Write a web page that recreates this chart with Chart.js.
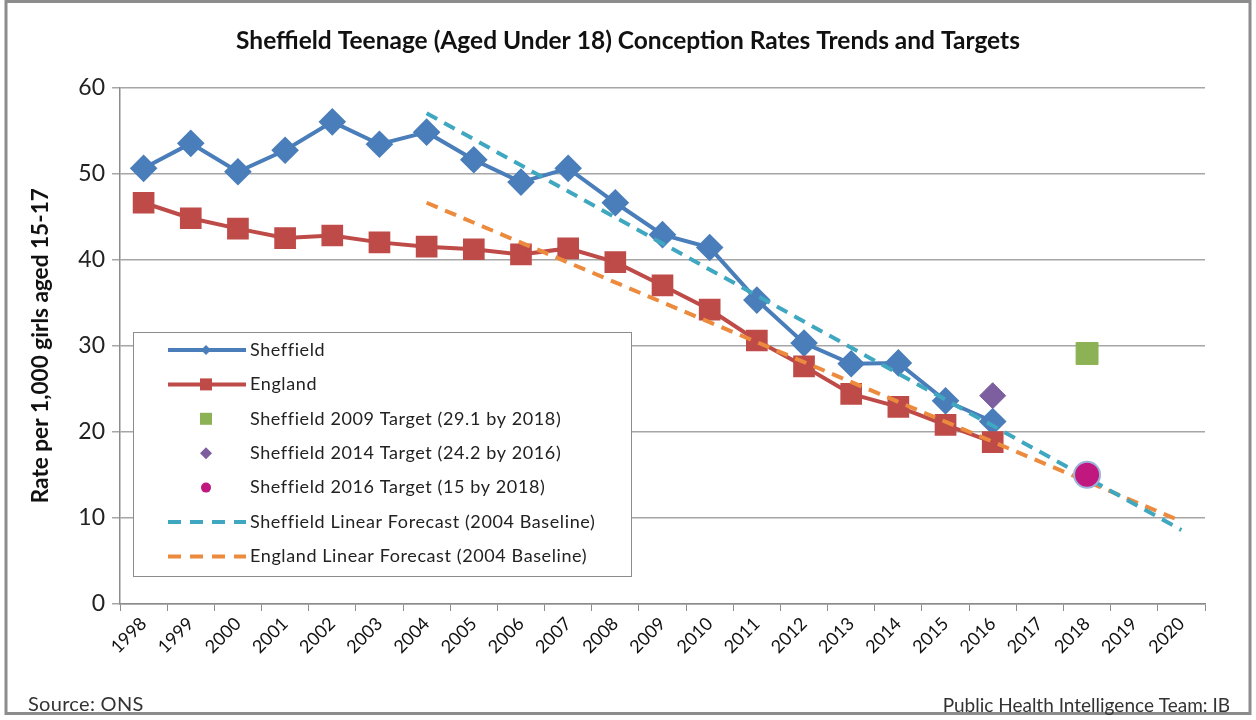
<!DOCTYPE html>
<html>
<head>
<meta charset="utf-8">
<script src="https://cdn.jsdelivr.net/npm/chart.js@4/dist/chart.umd.min.js"></script>
<style>
  html, body { margin: 0; padding: 0; background: #fff; }
  #wrap { width: 1256px; height: 720px; position: relative; }
</style>
</head>
<body>
<div id="wrap"><canvas id="teenChart" width="1256" height="720"></canvas></div>
<script>
const years = ['1998', '1999', '2000', '2001', '2002', '2003', '2004', '2005', '2006', '2007', '2008',
    '2009', '2010', '2011', '2012', '2013', '2014', '2015', '2016', '2017', '2018', '2019', '2020'];

const sheffield = [50.6, 53.5, 50.2, 52.7, 56.0, 53.4, 54.8, 51.6, 49.0, 50.6, 46.6,
    42.9, 41.4, 35.3, 30.3, 27.9, 28.0, 23.6, 21.2];
const england = [46.6, 44.8, 43.6, 42.5, 42.8, 42.0, 41.5, 41.2, 40.6, 41.3, 39.7,
    37.0, 34.2, 30.6, 27.6, 24.4, 22.9, 20.8, 18.8];

// targets: one point each (index = year position)
const target2009 = [null, null, null, null, null, null, null, null, null, null, null,
    null, null, null, null, null, null, null, null, null, 29.1];
const target2014 = [null, null, null, null, null, null, null, null, null, null, null,
    null, null, null, null, null, null, null, 24.2];
const target2016 = [null, null, null, null, null, null, null, null, null, null, null,
    null, null, null, null, null, null, null, null, null, 15];

// linear forecasts from the 2004 baseline to 2020
const sheffieldForecast = [null, null, null, null, null, null, 57.0, null, null, null, null,
    null, null, null, null, null, null, null, null, null, null, null, 8.6];
const englandForecast = [null, null, null, null, null, null, 46.6, null, null, null, null,
    null, null, null, null, null, null, null, null, null, null, null, 9.6];

const yTicks = [0, 10, 20, 30, 40, 50, 60];

const FONT = "Lato, 'Open Sans', sans-serif";

const legendItems = [
    { text: 'Sheffield', line: '#4A7EBB', dash: [], marker: 'diamond', mColor: '#4A7EBB', mSize: 5 },
    { text: 'England', line: '#BE4B48', dash: [], marker: 'square', mColor: '#BE4B48', mSize: 6 },
    { text: 'Sheffield 2009 Target (29.1 by 2018)', line: null, marker: 'square', mColor: '#8DB255', mSize: 6 },
    { text: 'Sheffield 2014 Target (24.2 by 2016)', line: null, marker: 'diamond', mColor: '#7D5FA0', mSize: 6 },
    { text: 'Sheffield 2016 Target (15 by 2018)', line: null, marker: 'circle', mColor: '#C0187F', mSize: 5 },
    { text: 'Sheffield Linear Forecast (2004 Baseline)', line: '#3FA8C0', dash: [13, 9], marker: null },
    { text: 'England Linear Forecast (2004 Baseline)', line: '#EC8B3D', dash: [13, 9], marker: null }
];

function drawMarker(ctx, type, x, y, r, color) {
    ctx.fillStyle = color;
    ctx.beginPath();
    if (type === 'diamond') {
        ctx.moveTo(x, y - r); ctx.lineTo(x + r, y); ctx.lineTo(x, y + r); ctx.lineTo(x - r, y);
        ctx.closePath();
    } else if (type === 'square') {
        ctx.rect(x - r, y - r, 2 * r, 2 * r);
    } else {
        ctx.arc(x, y, r, 0, Math.PI * 2);
    }
    ctx.fill();
}

const decor = {
    id: 'decor',
    afterDraw(chart) {
        const ctx = chart.ctx;
        const area = chart.chartArea;
        ctx.save();
        // outer frame
        ctx.strokeStyle = '#8C8C8C';
        ctx.lineWidth = 3;
        ctx.strokeRect(6, 1.5, 1244, 712);

        // y axis title, sized to span about 315px like the original
        const yTitle = 'Rate per 1,000 girls aged 15-17';
        ctx.save();
        ctx.font = 'bold 18px ' + FONT;
        const size = 18 * 315 / ctx.measureText(yTitle).width;
        ctx.font = 'bold ' + size.toFixed(1) + 'px ' + FONT;
        ctx.translate(41, (area.top + area.bottom) / 2);
        ctx.rotate(-Math.PI / 2);
        ctx.fillStyle = '#111';
        ctx.textAlign = 'center';
        ctx.textBaseline = 'middle';
        ctx.fillText(yTitle, 0, 0);
        ctx.restore();

        // legend box inside the plot
        const bx = 133, by = 332, bw = 498, bh = 244;
        ctx.fillStyle = '#fff';
        ctx.fillRect(bx, by, bw, bh);
        ctx.strokeStyle = '#8C8C8C';
        ctx.lineWidth = 1;
        ctx.strokeRect(bx + 0.5, by + 0.5, bw, bh);

        ctx.font = '18px ' + FONT;
        ctx.letterSpacing = '0.6px';
        ctx.textBaseline = 'middle';
        legendItems.forEach((it, i) => {
            const y = 350 + i * 34.4;
            if (it.line) {
                ctx.strokeStyle = it.line;
                ctx.lineWidth = 4;
                ctx.setLineDash(it.dash);
                ctx.beginPath();
                ctx.moveTo(168, y);
                ctx.lineTo(246, y);
                ctx.stroke();
                ctx.setLineDash([]);
            }
            if (it.marker) drawMarker(ctx, it.marker, 206, y, it.mSize, it.mColor);
            ctx.fillStyle = '#222';
            ctx.textAlign = 'left';
            ctx.fillText(it.text, 250, y);
        });

        // footnotes
        ctx.fillStyle = '#333';
        ctx.font = '20px ' + FONT;
        ctx.letterSpacing = '0.3px';
        ctx.textAlign = 'left';
        ctx.fillText('Source: ONS', 28, 705);
        ctx.font = '19px ' + FONT;
        ctx.letterSpacing = '0px';
        ctx.textAlign = 'right';
        ctx.fillText('Public Health Intelligence Team: IB', 1230, 706);
        ctx.restore();
    }
};

const ctx = document.getElementById('teenChart');
new Chart(ctx, {
    type: 'line',
    data: {
        labels: years,
        datasets: [
            {
                label: 'Sheffield 2016 Target (15 by 2018)',
                data: target2016,
                showLine: false,
                pointStyle: 'circle',
                pointRadius: 13,
                backgroundColor: '#C0187F',
                borderColor: '#9DB3DA',
                pointBorderWidth: 2,
                order: 0
            },
            {
                label: 'Sheffield Linear Forecast (2004 Baseline)',
                data: sheffieldForecast,
                spanGaps: true,
                borderColor: '#3FA8C0',
                borderWidth: 4,
                borderDash: [12, 8],
                pointRadius: 0,
                order: 1
            },
            {
                label: 'England Linear Forecast (2004 Baseline)',
                data: englandForecast,
                spanGaps: true,
                borderColor: '#EC8B3D',
                borderWidth: 4,
                borderDash: [12, 8],
                pointRadius: 0,
                order: 2
            },
            {
                label: 'Sheffield 2009 Target (29.1 by 2018)',
                data: target2009,
                showLine: false,
                pointStyle: 'rect',
                pointRadius: 15.5,
                backgroundColor: '#8DB255',
                borderColor: '#8DB255',
                order: 3
            },
            {
                label: 'Sheffield 2014 Target (24.2 by 2016)',
                data: target2014,
                showLine: false,
                pointStyle: 'rectRot',
                pointRadius: 13,
                backgroundColor: '#7D5FA0',
                borderColor: '#7D5FA0',
                order: 4
            },
            {
                label: 'England',
                data: england,
                borderColor: '#BE4B48',
                backgroundColor: '#BE4B48',
                borderWidth: 4,
                pointStyle: 'rect',
                pointRadius: 12.5,
                tension: 0,
                order: 5
            },
            {
                label: 'Sheffield',
                data: sheffield,
                borderColor: '#4A7EBB',
                backgroundColor: '#4A7EBB',
                borderWidth: 4,
                pointStyle: 'rectRot',
                pointRadius: 11,
                tension: 0,
                order: 6
            }
        ]
    },
    options: {
        responsive: false,
        animation: false,
        layout: { padding: { left: 51, right: 51, top: 0, bottom: 40 } },
        plugins: {
            legend: { display: false },
            tooltip: { enabled: false },
            title: {
                display: true,
                text: 'Sheffield Teenage (Aged Under 18) Conception Rates Trends and Targets',
                color: '#111',
                font: { family: FONT, size: 24.5, weight: 'bold' },
                padding: { top: 26, bottom: 32 }
            }
        },
        scales: {
            x: {
                offset: true,
                grid: {
                    offset: true,
                    drawOnChartArea: false,
                    color: '#8C8C8C',
                    tickLength: 7
                },
                border: { color: '#8C8C8C', width: 1.5 },
                ticks: {
                    color: '#111',
                    font: { family: FONT, size: 18 },
                    minRotation: 45,
                    maxRotation: 45,
                    padding: 2,
                    autoSkip: false
                },
                afterFit(scale) { scale.height = 76; }
            },
            y: {
                min: 0,
                max: 60,
                afterBuildTicks(scale) { scale.ticks = yTicks.map(v => ({ value: v })); },
                grid: { color: '#A6A6A6', lineWidth: 1.5, tickLength: 8 },
                border: { color: '#8C8C8C', width: 1.5 },
                ticks: {
                    color: '#222',
                    font: { family: FONT, size: 23 },
                    padding: 7
                },
                afterFit(scale) { scale.width = 69; }
            }
        }
    },
    plugins: [decor]
});
</script>
</body>
</html>
